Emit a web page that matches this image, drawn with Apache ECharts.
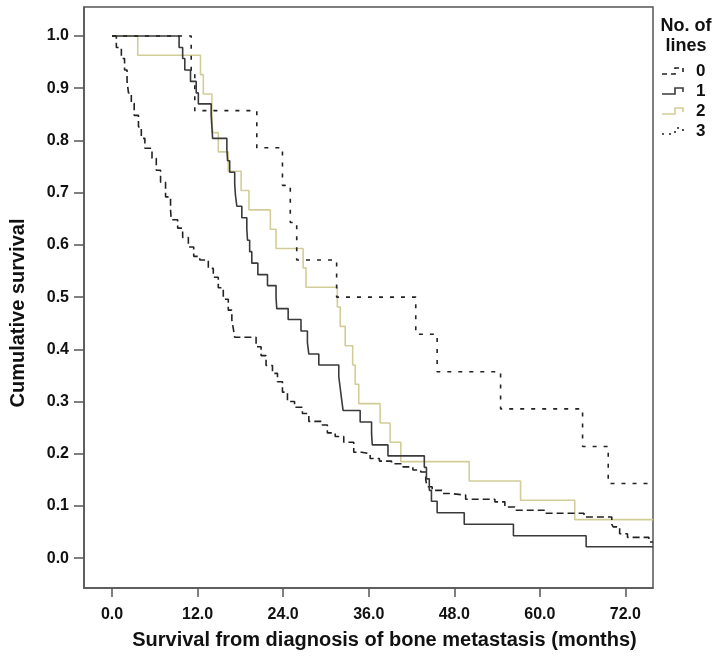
<!DOCTYPE html>
<html>
<head>
<meta charset="utf-8">
<script src="https://cdn.jsdelivr.net/npm/echarts@6/dist/echarts.min.js"></script>
<style>
html, body { margin: 0; padding: 0; background: #fff; }
#chart { width: 720px; height: 658px; }
</style>
</head>
<body>
<div id="chart"></div>
<script>
// Kaplan-Meier survival estimates: [months, cumulative survival]
const group0 = [[0,1.0],[0.6,0.978],[1.3,0.957],[1.75,0.935],[2.1,0.913],[2.3,0.891],[2.7,0.871],[3.1,0.848],[3.7,0.826],[4.1,0.804],[4.6,0.785],[5.6,0.766],[6.2,0.743],[6.8,0.72],[7.5,0.692],[8.2,0.667],[8.3,0.648],[9.2,0.632],[9.9,0.614],[10.7,0.596],[11.45,0.578],[12.3,0.571],[13.5,0.555],[14.2,0.538],[14.9,0.518],[15.6,0.496],[16.3,0.475],[16.8,0.456],[17.0,0.44],[17.2,0.423],[20.2,0.405],[20.9,0.388],[21.6,0.369],[22.5,0.354],[23.2,0.338],[23.9,0.318],[24.6,0.300],[25.6,0.289],[26.7,0.277],[27.6,0.262],[29.5,0.255],[30.2,0.240],[31.3,0.233],[32.5,0.222],[33.9,0.203],[35.0,0.200],[36.2,0.191],[37.5,0.186],[39.2,0.181],[40.8,0.175],[42.2,0.169],[43.3,0.165],[44.0,0.150],[44.2,0.137],[44.9,0.130],[46.3,0.124],[47.3,0.121],[49.6,0.113],[53.7,0.108],[55.1,0.098],[56.5,0.092],[60.8,0.086],[66.2,0.079],[70.1,0.065],[70.3,0.060],[71.2,0.047],[72.3,0.040],[75.3,0.031],[75.9,0.031]];
const group1 = [[0,1],[9.4,0.978],[9.9,0.957],[10.2,0.935],[11.0,0.913],[11.8,0.891],[12.1,0.870],[13.9,0.848],[14.0,0.826],[14.1,0.804],[16.1,0.783],[16.2,0.761],[16.5,0.739],[17.2,0.717],[17.3,0.696],[17.5,0.674],[18.2,0.652],[18.9,0.630],[19.0,0.609],[19.3,0.587],[19.6,0.565],[20.45,0.543],[21.8,0.522],[23.0,0.500],[23.1,0.478],[24.7,0.457],[26.5,0.435],[27.4,0.413],[27.6,0.391],[29.0,0.370],[31.8,0.348],[32.0,0.326],[32.2,0.304],[32.4,0.283],[34.8,0.261],[36.4,0.239],[36.5,0.217],[38.7,0.196],[43.8,0.174],[44.1,0.152],[44.5,0.130],[44.8,0.109],[45.6,0.087],[49.4,0.065],[56.3,0.043],[66.5,0.022],[75.9,0.022]];
const group2 = [[0,1],[3.6,0.963],[12.4,0.926],[12.8,0.889],[14.0,0.852],[14.1,0.815],[14.9,0.778],[16.3,0.741],[18.1,0.704],[19.2,0.667],[22.2,0.630],[23.0,0.593],[26.8,0.556],[27.2,0.519],[31.6,0.481],[32.0,0.444],[32.7,0.407],[33.75,0.370],[34.1,0.333],[34.6,0.296],[37.6,0.259],[39.0,0.222],[40.5,0.185],[50.1,0.148],[57.3,0.111],[64.9,0.074],[75.9,0.074]];
const group3 = [[0,1],[11.1,0.929],[11.6,0.857],[20.3,0.786],[23.9,0.714],[25.0,0.643],[25.9,0.571],[31.5,0.5],[42.6,0.429],[45.6,0.357],[54.5,0.286],[66.0,0.214],[69.6,0.143],[75.9,0.143]];

const seriesNames = ['0', '1', '2', '3'];
const xTicks = [0, 12, 24, 36, 48, 60, 72];
const yTicks = [0, 0.1, 0.2, 0.3, 0.4, 0.5, 0.6, 0.7, 0.8, 0.9, 1.0];
const legendTitle = ['No. of', 'lines'];
const xTitle = 'Survival from diagnosis of bone metastasis (months)';
const yTitle = 'Cumulative survival';

const FONT = '"Liberation Sans", Arial, sans-serif';
const AXIS_COLOR = '#555';
const colors = ['#222', '#3a3a3a', '#d2cd98', '#222'];
const dashes = [[7, 4], null, null, [4, 7]];
const legendDashes = [[5, 4], null, null, [2, 5]];
const allData = [group0, group1, group2, group3];

const chart = echarts.init(document.getElementById('chart'), null, { renderer: 'canvas' });

const series = allData.map((d, i) => ({
  name: seriesNames[i],
  type: 'line',
  step: 'end',
  data: d,
  showSymbol: false,
  symbol: 'none',
  clip: true,
  z: i === 2 ? 2 : 3,
  lineStyle: {
    color: colors[i],
    width: 1.6,
    type: dashes[i] || 'solid'
  },
  itemStyle: { color: colors[i] },
  emphasis: { disabled: true }
}));

// legend drawn as graphics (step-shaped samples)
const legendGraphics = [];
legendTitle.forEach((t, k) => {
  legendGraphics.push({
    type: 'text', x: 686, y: 26 + k * 20,
    style: { text: t, font: 'bold 18px ' + FONT, fill: '#111', align: 'center', verticalAlign: 'middle' }
  });
});
seriesNames.forEach((n, i) => {
  const cy = 71 + i * 20;
  legendGraphics.push({
    type: 'polyline',
    shape: { points: [[662, cy + 3], [675, cy + 3], [675, cy - 3], [683, cy - 3], [683, cy + 1]] },
    style: { stroke: colors[i], lineWidth: 1.6, fill: null, lineDash: legendDashes[i] }
  });
  legendGraphics.push({
    type: 'text', x: 696, y: cy,
    style: { text: n, font: 'bold 17px ' + FONT, fill: '#111', verticalAlign: 'middle' }
  });
});

const option = {
  backgroundColor: '#fff',
  animation: false,
  textStyle: { fontFamily: FONT },
  grid: {
    left: 77, right: 67, top: 7, bottom: 70,
    show: true, borderColor: AXIS_COLOR, borderWidth: 1.5, backgroundColor: 'transparent'
  },
  xAxis: {
    type: 'value',
    min: -3.94, max: 75.88,
    name: xTitle,
    nameLocation: 'middle',
    nameGap: 42,
    nameTextStyle: { fontSize: 20, fontWeight: 'bold', color: '#111', fontFamily: FONT, padding: [0, 0, 0, 32] },
    axisLine: { show: true, onZero: false, lineStyle: { color: AXIS_COLOR, width: 1.5 } },
    axisTick: { show: true, inside: false, length: 9, customValues: xTicks, lineStyle: { color: AXIS_COLOR, width: 1.5 } },
    axisLabel: {
      customValues: xTicks, margin: 19,
      formatter: v => Number(v).toFixed(1),
      fontSize: 16, fontWeight: 'bold', color: '#111', fontFamily: FONT
    },
    splitLine: { show: false }
  },
  yAxis: {
    type: 'value',
    min: -0.057, max: 1.0555,
    name: yTitle,
    nameLocation: 'middle',
    nameGap: 56,
    nameRotate: 90,
    nameTextStyle: { fontSize: 20, fontWeight: 'bold', color: '#111', fontFamily: FONT, padding: [0, 31, 0, 0] },
    axisLine: { show: true, onZero: false, lineStyle: { color: AXIS_COLOR, width: 1.5 } },
    axisTick: { show: true, inside: false, length: 10, customValues: yTicks, lineStyle: { color: AXIS_COLOR, width: 1.5 } },
    axisLabel: {
      customValues: yTicks, margin: 15,
      formatter: v => Number(v).toFixed(1),
      fontSize: 16, fontWeight: 'bold', color: '#111', fontFamily: FONT
    },
    splitLine: { show: false }
  },
  series: series,
  graphic: legendGraphics
};

chart.setOption(option);
</script>
</body>
</html>
